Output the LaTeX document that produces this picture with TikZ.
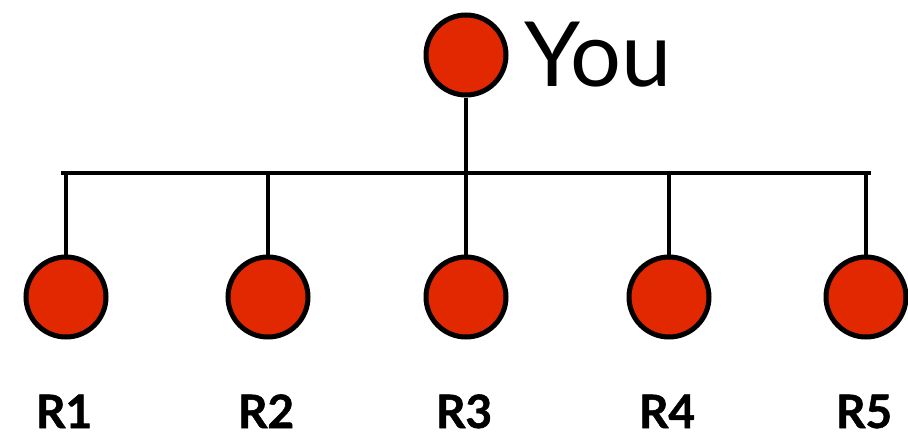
\documentclass[tikz,border=0pt]{standalone}
\usepackage{fontspec}
\setmainfont{Lato}
\newfontfamily\heavyfont{Lato}[BoldFeatures={FakeBold=1.2}]
\definecolor{nodered}{RGB}{226,40,0}
\begin{document}
\begin{tikzpicture}[x=1pt,y=-1pt,
  dot/.style={circle,draw=black,fill=nodered,line width=5pt,minimum size=80pt,inner sep=0pt},
  wire/.style={line width=4.5pt,line cap=butt},
  rlabel/.style={font=\heavyfont\fontsize{46}{46}\selectfont\bfseries,inner sep=0pt,anchor=base},
  bigtext/.style={font=\fontsize{90}{90}\selectfont,inner sep=0pt,anchor=base west}]
\useasboundingbox (0,0) rectangle (908,436);
\node[dot] (you) at (466,55) {};
\node[bigtext] (youtxt) at (524,87) {You};
\coordinate (bl) at (63,173);
\coordinate (br) at (868.5,173);
\coordinate (bm) at (466,173);
\foreach \i/\x in {1/66,2/268,3/466,4/669,5/866}{
  \node[dot] (r\i) at (\x,297) {};
  \coordinate (t\i) at (\x,173);
  \node[rlabel] (l\i) at (\x-2,428) {R\i};
  \draw[wire] (t\i) -- (r\i.north);
}
\draw[wire,line cap=rect] (bl) -- (br);
\draw[wire] (you.south) -- (bm);
\end{tikzpicture}
\end{document}
